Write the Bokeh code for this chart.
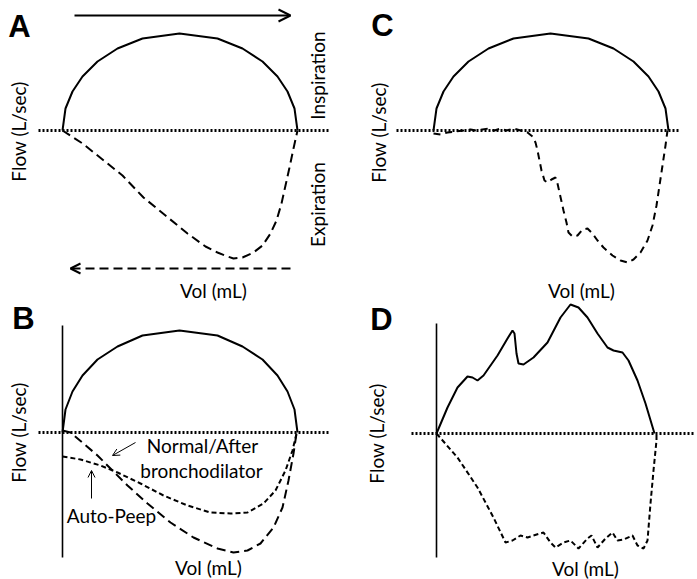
from bokeh.plotting import figure
from bokeh.layouts import column, row
from bokeh.models import Range1d, Label, Arrow, OpenHead
from bokeh.embed import file_html
from bokeh.resources import INLINE
from math import pi

# ---------------- data (arbitrary units: volume, flow) ----------------
# Panel A - normal loop
a_insp_vol = [0, 3, 10, 20, 35, 55, 80, 117, 155, 180, 200, 215, 225, 232, 235]
a_insp_flow = [0, 22, 39, 54, 69, 82, 92, 97, 92, 82, 69, 54, 39, 22, 0]
a_exp_vol = [0, 20, 40, 60, 81, 103, 125, 143, 155, 165, 171, 180, 191, 200, 208, 214, 219, 223, 227, 231, 235]
a_exp_flow = [0, -13, -29, -45, -67, -85, -103, -116, -122, -126, -128, -127, -122, -115, -103, -90, -73, -55, -37, -18, 0]

# Panel B - auto-PEEP
b_insp_vol = [0, 3, 10, 20, 35, 55, 80, 117, 155, 180, 200, 215, 225, 232, 235]
b_insp_flow = [0, 23, 41, 57, 73, 86, 97, 102, 97, 86, 73, 57, 41, 23, 0]
b_norm_vol = [0, 8, 21, 35, 50, 65, 85, 108, 131, 155, 171, 185, 198, 211, 220, 226, 231, 234]
b_norm_flow = [2, 0, -11, -23, -38, -53, -71, -90, -105, -116, -120, -118, -111, -95, -75, -48, -21, -1]
b_peep_vol = [0, 18, 38, 55, 78, 101, 125, 148, 168, 185, 201, 213, 223, 230, 234]
b_peep_flow = [-24, -27, -33, -40, -51, -63, -73, -80, -81, -80, -71, -58, -38, -18, -1]

# Panel C - expiratory flow limitation / secretions
c_insp_vol = [0, 3, 10, 20, 35, 55, 80, 117, 155, 180, 200, 215, 225, 232, 235]
c_insp_flow = [0, 22, 39, 54, 69, 82, 92, 97, 92, 82, 69, 54, 39, 22, 0]
c_exp_vol = [0, 7, 14, 22, 30, 37, 43, 49, 55, 61, 67, 73, 80, 87, 94, 99, 102, 104, 106, 108, 111, 114, 118,
             122, 124, 126, 128, 130, 133, 135, 139, 144, 149, 154, 159, 164, 170, 179, 187, 194, 200, 207,
             214, 219, 223, 226, 229, 232, 234]
c_exp_flow = [-3, -4, -2, -1, 0, 1, 0, 1, 2, 0, 2, 0, 2, 0, -2, -6, -12, -20, -30, -40, -50, -52, -49,
              -47, -53, -62, -71, -80, -92, -102, -106, -105, -99, -98, -103, -110, -117, -125, -130, -132, -129, -122,
              -110, -95, -75, -55, -35, -15, 0]

# Panel D - irregular loop
d_insp_vol = [0, 11, 21, 31, 36, 41, 47, 61, 71, 76, 78, 80, 82, 87, 97, 111, 124, 134, 142, 151, 161, 171,
              177, 186, 192, 201, 209, 218]
d_insp_flow = [0, 26, 46, 57, 56, 53, 58, 78, 95, 103, 100, 80, 70, 69, 76, 91, 116, 129, 126, 116, 100, 86,
               83, 81, 73, 53, 30, 0]
d_exp_vol = [0, 21, 41, 57, 69, 76, 84, 91, 97, 107, 114, 119, 127, 134, 142, 151, 155, 161, 169, 176, 181,
             187, 196, 201, 207, 211, 214, 217, 220, 220]
d_exp_flow = [0, -24, -54, -84, -109, -107, -102, -104, -102, -99, -109, -114, -109, -107, -115, -105, -102,
              -114, -105, -99, -107, -106, -102, -112, -115, -107, -70, -37, -7, 0]

flow_label = "Flow (L/sec)"
vol_label = "Vol (mL)"
insp_label = "Inspiration"
exp_label = "Expiration"

FONT = "Lato"
TSIZE = "19px"
LSIZE = "31px"


def make_fig(w, h, xr, yr):
    p = figure(width=w, height=h, x_range=Range1d(*xr), y_range=Range1d(*yr),
               output_backend="svg", toolbar_location=None, min_border=0)
    p.axis.visible = False
    p.grid.visible = False
    p.outline_line_color = None
    p.background_fill_color = "white"
    p.border_fill_color = "white"
    return p


def add_text(p, x, y, text, angle=0.0, size=TSIZE, font=FONT, style="normal"):
    p.add_layout(Label(x=x, y=y, text=text, angle=angle, text_align="center",
                       text_baseline="middle", text_font=font, text_font_size=size,
                       text_font_style=style, text_color="black"))


def baseline(p, x0, x1):
    p.line([x0, x1], [0, 0], line_color="black", line_width=2.8, line_dash="2 2")


# ---------------- Panel A ----------------
pA = make_fig(348, 301, (-62, 286), (-171, 130))
baseline(pA, -24, 268)
pA.line(a_insp_vol, a_insp_flow, line_color="black", line_width=2)
pA.line(a_exp_vol, a_exp_flow, line_color="black", line_width=2, line_dash="9 5")
pA.add_layout(Arrow(end=OpenHead(size=12, line_width=2), x_start=12, y_start=115, x_end=228, y_end=115,
                    line_width=2))
pA.add_layout(Arrow(end=OpenHead(size=10, line_width=2), x_start=228, y_start=-138, x_end=8, y_end=-138,
                    line_width=2, line_dash="9 5"))
add_text(pA, -43, 104, "A", size=LSIZE, font="Liberation Sans", style="bold")
add_text(pA, -44, -1, flow_label, angle=pi / 2)
add_text(pA, 151, -160, vol_label)
add_text(pA, 255, 55, insp_label, angle=pi / 2)
add_text(pA, 255, -74, exp_label, angle=pi / 2)

# ---------------- Panel C ----------------
pC = make_fig(349, 301, (-85, 264), (-171, 130))
baseline(pC, -37, 245)
pC.line(c_insp_vol, c_insp_flow, line_color="black", line_width=2)
pC.line(c_exp_vol, c_exp_flow, line_color="black", line_width=2, line_dash="7 5")
add_text(pC, -51, 105, "C", size=LSIZE, font="Liberation Sans", style="bold")
add_text(pC, -55, -2, flow_label, angle=pi / 2)
add_text(pC, 148, -160, vol_label)

# ---------------- Panel B ----------------
pB = make_fig(348, 278, (-62, 286), (-147, 131))
baseline(pB, -24, 268)
pB.line([0, 0], [107, -125], line_color="black", line_width=1.6)
pB.line(b_insp_vol, b_insp_flow, line_color="black", line_width=2)
pB.line(b_norm_vol, b_norm_flow, line_color="black", line_width=2, line_dash="9 5")
pB.line(b_peep_vol, b_peep_flow, line_color="black", line_width=2, line_dash="5 3")
pB.add_layout(Arrow(end=OpenHead(size=7, line_width=1), x_start=73, y_start=-10, x_end=50, y_end=-23,
                    line_width=1))
pB.add_layout(Arrow(end=OpenHead(size=7, line_width=1), x_start=29, y_start=-66, x_end=29, y_end=-38,
                    line_width=1))
add_text(pB, 140, -13, "Normal/After")
add_text(pB, 139, -38, "bronchodilator")
add_text(pB, 49, -83, "Auto-Peep")
add_text(pB, -39, 114, "B", size=LSIZE, font="Liberation Sans", style="bold")
add_text(pB, -44, 0, flow_label, angle=pi / 2)
add_text(pB, 146, -135, vol_label)

# ---------------- Panel D ----------------
pD = make_fig(349, 278, (-88, 261), (-146, 132))
baseline(pD, -25, 259)
pD.line([0, 0], [110, -124], line_color="black", line_width=1.6)
pD.line(d_insp_vol, d_insp_flow, line_color="black", line_width=2)
pD.line(d_exp_vol, d_exp_flow, line_color="black", line_width=2, line_dash="5 3")
add_text(pD, -55, 114, "D", size=LSIZE, font="Liberation Sans", style="bold")
add_text(pD, -60, 0, flow_label, angle=pi / 2)
add_text(pD, 149, -135, vol_label)

layout = column(row(pA, pC), row(pB, pD))
open("out.html", "w").write(file_html(layout, INLINE))
